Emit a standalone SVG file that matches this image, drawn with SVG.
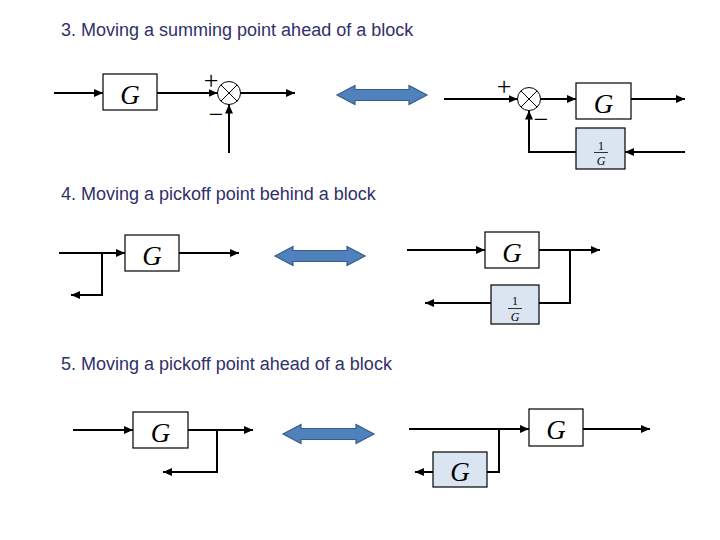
<svg xmlns="http://www.w3.org/2000/svg" width="720" height="540" viewBox="0 0 720 540">
<style>
.title{font-family:"Liberation Sans",Arial,sans-serif;font-size:18px;fill:#30306a}
.box{fill:#ffffff;stroke:#000000;stroke-width:1.2}
.boxb{fill:#dbe5f1;stroke:#000000;stroke-width:1.2}
.g{font-family:"Liberation Serif","Times New Roman",serif;font-style:italic;font-size:27px;fill:#000;text-anchor:middle}
.fr{font-family:"Liberation Serif","Times New Roman",serif;font-size:12px;fill:#000;text-anchor:middle}
.fri{font-style:italic}
.sign{font-family:"Liberation Serif","Times New Roman",serif;font-size:26px;fill:#000;text-anchor:middle}
.wire{fill:none;stroke:#000;stroke-width:2}
.arw{stroke:#000;stroke-width:2;fill:none;marker-end:url(#ah)}
.sum{fill:#fff;stroke:#000;stroke-width:1}
.dbl{fill:#4f81bd;stroke:#385d8a;stroke-width:1.2}
</style>
<defs>
<marker id="ah" markerUnits="userSpaceOnUse" markerWidth="9" markerHeight="8" refX="9" refY="4" orient="auto">
<path d="M0,0 L9,4 L0,8 z" fill="#000"/>
</marker>
</defs>
<rect width="720" height="540" fill="#ffffff"/>

<text class="title" x="61" y="36">3. Moving a summing point ahead of a block</text>
<text class="title" x="61" y="200">4. Moving a pickoff point behind a block</text>
<text class="title" x="61" y="370">5. Moving a pickoff point ahead of a block</text>

<g id="connectors">
<path class="arw" d="M54,93 H103"/>
<path class="arw" d="M157,93 H217.5"/>
<path class="arw" d="M240.5,93 H295"/>
<path class="arw" d="M229,153 V104.5"/>

<path class="arw" d="M444,99 H517.5"/>
<path class="arw" d="M540.5,99 H576"/>
<path class="arw" d="M631,99 H685"/>
<path class="arw" d="M685,152 H625"/>
<path class="arw" d="M576,152 H529 V110.5"/>

<path class="arw" d="M59,253 H125"/>
<path class="arw" d="M179,253 H239"/>
<path class="arw" d="M102,253 V295 H71"/>

<path class="arw" d="M407,250 H485"/>
<path class="arw" d="M539,250 H600"/>
<path class="wire" d="M570,250 V303 H539"/>
<path class="arw" d="M491,303 H425"/>

<path class="arw" d="M73,430 H133"/>
<path class="arw" d="M188,430 H253"/>
<path class="arw" d="M217,430 V472 H163"/>

<path class="arw" d="M409,429 H529"/>
<path class="arw" d="M583,429 H650"/>
<path class="wire" d="M499,429 V472 H487"/>
<path class="arw" d="M433,472 H415"/>
</g>

<g id="g1">
<rect class="box" x="103" y="74" width="54" height="36"/>
<text class="g" x="130" y="103.5">G</text>
</g>
<g id="sum1">
<circle class="sum" cx="229" cy="93" r="11.5"/>
<path d="M220.9,84.9 L237.1,101.1 M237.1,84.9 L220.9,101.1" stroke="#000" stroke-width="1"/>
<text class="sign" x="211" y="89">+</text>
<text class="sign" x="216" y="122.5">−</text>
</g>
<g id="dbl1">
<polygon class="dbl" points="337,95 355,85.5 355,89.5 409,89.5 409,85.5 427,95 409,104.5 409,100.5 355,100.5 355,104.5"/>
</g>
<g id="sum2">
<circle class="sum" cx="529" cy="99" r="11.5"/>
<path d="M520.9,90.9 L537.1,107.1 M537.1,90.9 L520.9,107.1" stroke="#000" stroke-width="1"/>
<text class="sign" x="504" y="95">+</text>
<text class="sign" x="541" y="127.5">−</text>
</g>
<g id="g2">
<rect class="box" x="576" y="83" width="55" height="36"/>
<text class="g" x="603.5" y="112.5">G</text>
</g>
<g id="inv1">
<rect class="boxb" x="576" y="128" width="49" height="41"/>
<text class="fr" x="601" y="149.5">1</text>
<line x1="594" y1="152.5" x2="608" y2="152.5" stroke="#000" stroke-width="0.8"/>
<text class="fr fri" x="601" y="165">G</text>
</g>

<g id="g3">
<rect class="box" x="125" y="235" width="54" height="36"/>
<text class="g" x="152" y="264.5">G</text>
</g>
<g id="dbl2">
<polygon class="dbl" points="275,256 293,246.5 293,250.5 347,250.5 347,246.5 365,256 347,265.5 347,261.5 293,261.5 293,265.5"/>
</g>
<g id="g4">
<rect class="box" x="485" y="232" width="54" height="36"/>
<text class="g" x="512" y="261.5">G</text>
</g>
<g id="inv2">
<rect class="boxb" x="491" y="285" width="48" height="39"/>
<text class="fr" x="515" y="305">1</text>
<line x1="508" y1="308.5" x2="522" y2="308.5" stroke="#000" stroke-width="0.8"/>
<text class="fr fri" x="515" y="320.5">G</text>
</g>

<g id="g5">
<rect class="box" x="133" y="412" width="55" height="36"/>
<text class="g" x="160.5" y="441.5">G</text>
</g>
<g id="dbl3">
<polygon class="dbl" points="283,434 301,424.5 301,428.5 356,428.5 356,424.5 374,434 356,443.5 356,439.5 301,439.5 301,443.5"/>
</g>
<g id="g6">
<rect class="box" x="529" y="409" width="54" height="37"/>
<text class="g" x="556" y="438.5">G</text>
</g>
<g id="g7">
<rect class="boxb" x="433" y="452" width="54" height="35"/>
<text class="g" x="460" y="481">G</text>
</g>
</svg>
